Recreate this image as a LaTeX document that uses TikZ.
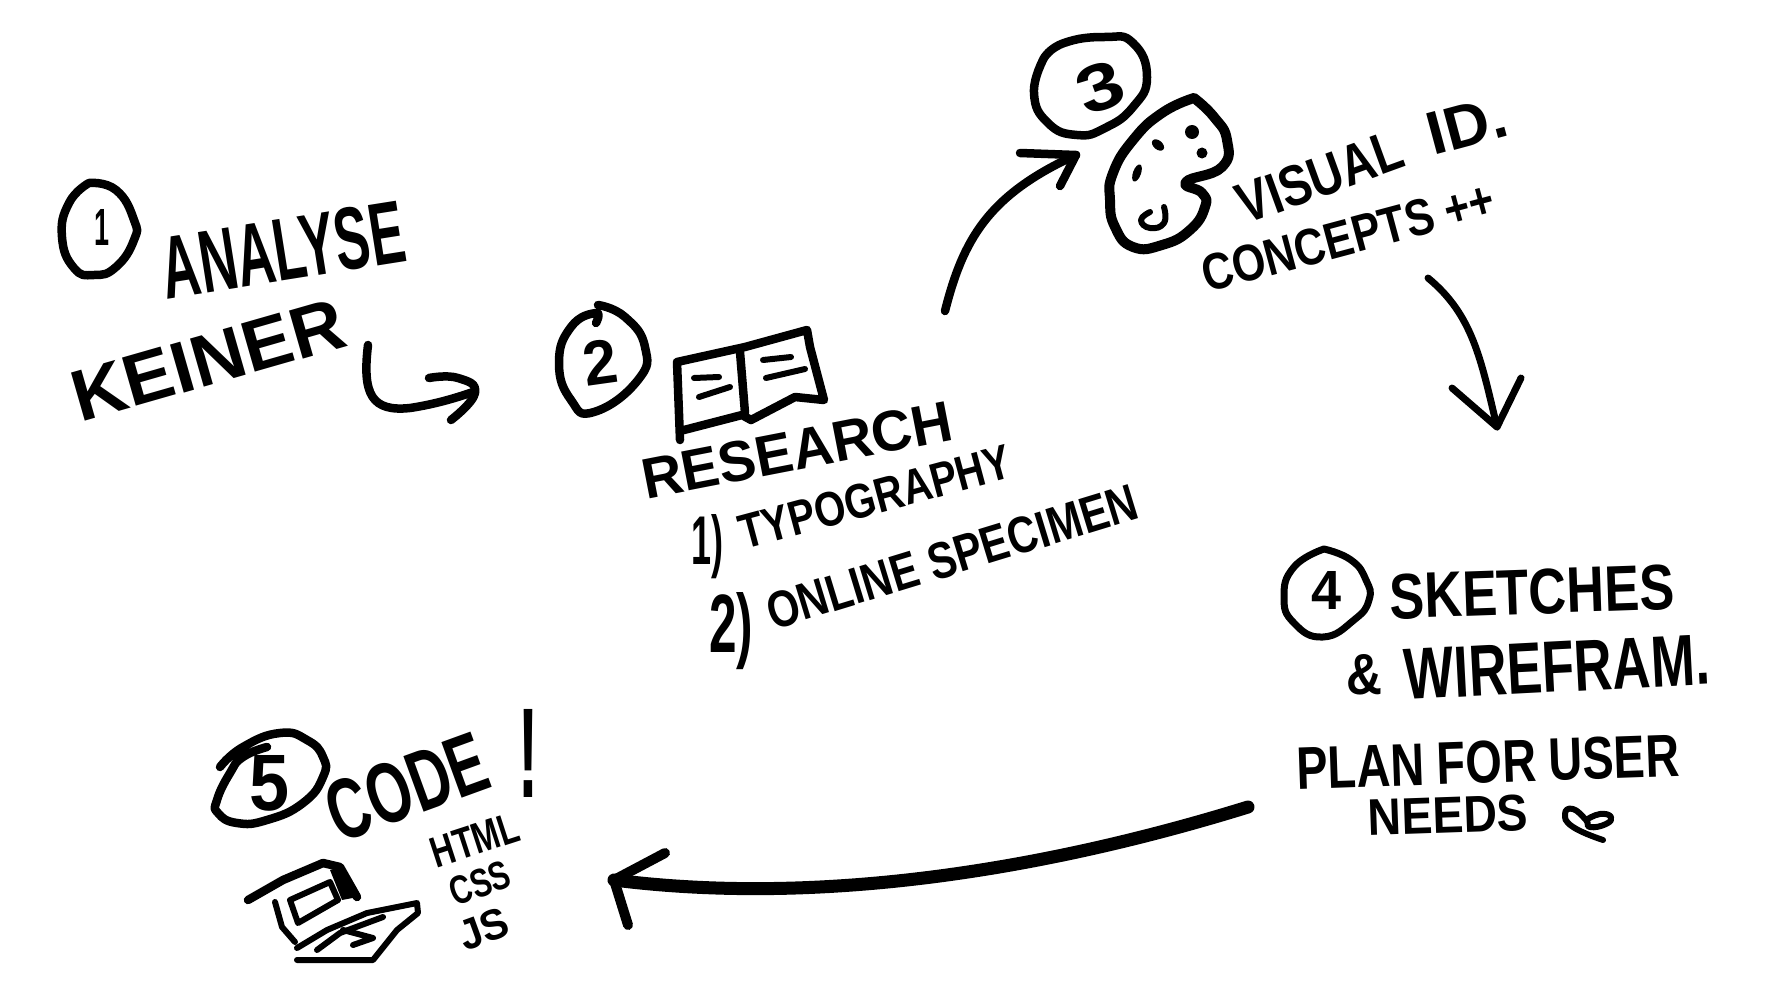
\documentclass[tikz,border=0pt]{standalone}
\usepackage{graphicx}
\usepackage{fontspec}
\setmainfont{Liberation Sans}
\tikzset{
  pen/.style={draw=black,line width=8.5pt,line cap=round,line join=round},
  finepen/.style={pen,line width=6pt},
  heavypen/.style={pen,line width=13pt},
  handtext/.style={inner sep=0pt,font=\bfseries,text=black},
  blob/.style={fill=black,draw=none}
}
\newcommand{\hand}[7]{\node[handtext,rotate=#4] (#1) at (#2,#3) {\resizebox{#5pt}{#6pt}{#7}};}
\newcommand{\sketch}[2][pen]{\draw[#1] plot[smooth,tension=.85] coordinates {#2};}
\begin{document}
\begin{tikzpicture}[x=1pt,y=-1pt]
\useasboundingbox (0,0) rectangle (1772,1006);
% step 1
\sketch{(89,183)(116,190)(134,220)(134,240)(116,267)(94,275)(74,268)(62,237)(69,203)(89,183)}
\hand{n1}{102}{227}{0}{15}{36}{1}
\hand{analyse}{283}{250}{9}{245}{62}{ANALYSE}
\hand{keiner}{208}{360}{16}{280}{50}{KEINER}
% arrow 1-2
\coordinate (a1s) at (368,345);
\coordinate (a1e) at (473,392);
\draw[pen] (a1s) .. controls (362,395) and (372,412) .. (410,408) .. controls (430,405) and (450,400) .. (a1e);
\sketch{(429,378)(458,378)(475,393)(451,420)}
% step 2
\sketch{(598,305)(625,317)(645,347)(638,380)(594,412)(571,400)(559,363)(571,327)(596,313)(596,323)}
\hand{n2}{600}{362}{8}{34}{44}{2}
% book
\draw[pen] (680,440) -- (677,362) -- (745,347) -- (807,330) -- (810,347) -- (824,400) -- (795,397) -- (751,420) -- (742,415) -- (684,430);
\draw[pen] (740,352) -- (745,413);
\draw[finepen] (694,378) -- (719,377);
\draw[finepen] (699,397) -- (730,387);
\draw[finepen] (763,360) -- (791,357);
\draw[finepen] (766,378) -- (805,369);
\hand{research}{797}{450}{11}{315}{40}{RESEARCH}
\hand{item1}{707}{547}{0}{32}{50}{1)}
\hand{typo}{875}{497}{15}{280}{34}{TYPOGRAPHY}
\hand{item2}{731}{631}{0}{44}{60}{2)}
\hand{online}{952}{557}{17}{385}{36}{ONLINE SPECIMEN}
% step 3 group
\begin{scope}[xshift=-12pt]
\coordinate (a2s) at (957,311);
\coordinate (a2e) at (1088,155);
\draw[pen] (a2s) .. controls (975,240) and (1000,195) .. (a2e);
\draw[pen] (1032,153) -- (a2e) -- (1072,186);
\sketch{(1056,58)(1076,43)(1117,37)(1145,43)(1159,77)(1145,107)(1117,128)(1089,135)(1060,123)(1046,93)(1056,58)}
\hand{n3}{1112}{87}{20}{46}{46}{3}
\sketch[pen,line width=10pt]{(1206,98)(1174,113)(1145,140)(1125,173)(1122,200)(1127,227)(1145,247)(1174,245)(1202,230)(1217,207)(1214,193)(1198,182)(1234,167)(1239,140)(1226,117)(1206,98)}
\fill[blob] (1204,132) circle[radius=7];
\fill[blob] (1214,153) circle[radius=5.5];
\fill[blob,rotate around={-40:(1170,145)}] (1170,145) ellipse[x radius=7,y radius=4.5];
\fill[blob,rotate around={70:(1149,173)}] (1149,173) ellipse[x radius=9,y radius=4];
\sketch[finepen]{(1176,207)(1176,223)(1162,228)(1153,220)(1162,212)}
\hand{visual}{1332}{177}{20}{172}{40}{VISUAL}
\hand{idnode}{1479}{125}{15}{80}{42}{ID.}
\hand{concepts}{1360}{237}{15}{300}{36}{CONCEPTS ++}
\end{scope}
% arrow 3-4
\begin{scope}[xshift=-17pt]
\coordinate (a3s) at (1445,278);
\coordinate (a3e) at (1514,427);
\draw[pen,line width=7pt] (a3s) .. controls (1490,315) and (1498,360) .. (a3e);
\draw[pen,line width=7pt] (1469,388) -- (a3e) -- (1538,378);
\end{scope}
% step 4
\begin{scope}[xshift=-13pt]
\sketch[pen,line width=7pt]{(1337,549)(1364,560)(1379,580)(1382,600)(1367,620)(1336,637)(1307,623)(1297,597)(1307,567)(1337,549)}
\hand{n4}{1339}{590}{0}{30}{38}{4}
\hand{sketches}{1545}{592}{2}{285}{45}{SKETCHES}
\hand{amp}{1377}{675}{0}{36}{40}{\&}
\hand{wire}{1570}{667}{3}{305}{50}{WIREFRAM.}
\hand{plan}{1501}{762}{2}{383}{42}{PLAN FOR USER}
\hand{needs}{1461}{815}{2}{160}{36}{NEEDS}
\sketch[finepen]{(1616,840)(1586,827)(1578,814)(1586,809)(1599,820)(1603,827)(1619,824)(1624,817)(1613,814)(1599,820)}
\end{scope}
% arrow 4-5
\coordinate (a4s) at (1248,807);
\coordinate (a4e) at (614,880);
\draw[heavypen] (a4s) .. controls (1090,856) and (850,910) .. (a4e);
\draw[heavypen,line width=10pt] (665,853) -- (a4e) -- (628,925);
% step 5
\sketch{(220,767)(243,747)(280,733)(307,740)(323,757)(323,777)(303,803)(267,820)(237,823)(218,813)(217,800)(230,773)(243,757)(267,747)}
\hand{n5}{270}{783}{0}{40}{55}{5}
\hand{code}{407}{787}{20}{165}{60}{CODE}
\hand{bang}{528}{753}{0}{20}{88}{!}
\hand{html}{475}{840}{18}{90}{30}{HTML}
\hand{css}{480}{883}{20}{62}{28}{CSS}
\hand{js}{484}{929}{20}{50}{30}{JS}
% laptop
\draw[pen] (248,900) -- (283,880) -- (323,863) -- (340,867) -- (357,897);
\fill[blob] (330,870) -- (340,867) -- (358,897) -- (342,900) -- cycle;
\draw[pen,line width=6pt] (290,900) -- (330,882) -- (338,900) -- (298,923) -- cycle;
\draw[pen,line width=6pt] (275,902) -- (282,927) -- (295,942);
\draw[pen,line width=6pt] (297,948) -- (327,930) -- (367,913) -- (417,903) -- (418,913) -- (397,930) -- (373,960) -- (297,960);
\draw[finepen] (317,950) -- (340,933) -- (383,917);
\draw[finepen] (343,930) -- (373,938) -- (353,945);
\end{tikzpicture}
\end{document}
